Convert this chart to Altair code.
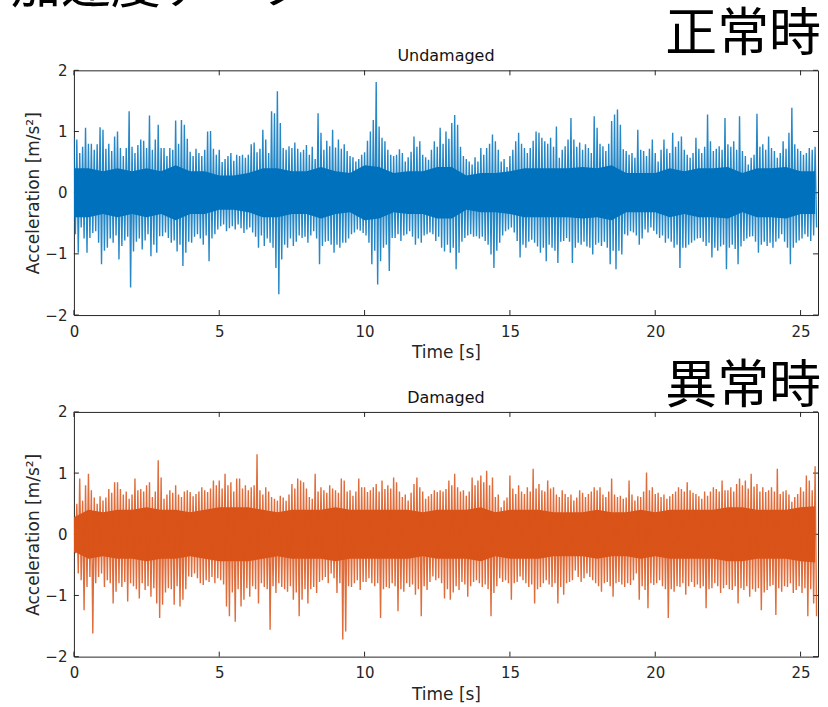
import altair as alt
import pandas as pd

STEP = 0.1        # seconds per envelope slot
CORE_STEP = 0.5   # seconds per core-band reading

# Upper / lower envelope of the Undamaged signal, one value per 0.1 s (0.0 .. 25.5 s)
undamaged_peak = [
    0.90, 0.87, 0.65, 0.75, 1.06, 0.80, 0.80, 0.70, 0.79, 1.07,
    1.03, 0.72, 0.80, 0.68, 0.92, 1.00, 0.73, 0.60, 0.73, 1.33,
    0.75, 0.65, 0.78, 0.87, 0.85, 0.73, 1.26, 0.70, 0.87, 1.11,
    0.73, 0.73, 0.60, 0.73, 0.70, 1.18, 0.80, 1.19, 1.11, 0.88,
    0.67, 0.60, 0.72, 0.65, 0.60, 0.70, 1.00, 1.01, 0.72, 0.62,
    0.70, 0.50, 0.55, 0.60, 0.65, 0.52, 0.62, 0.60, 0.62, 0.57,
    0.62, 0.79, 0.82, 0.66, 0.72, 1.03, 0.87, 0.65, 1.33, 1.30,
    1.66, 1.14, 0.73, 0.70, 0.76, 0.73, 0.82, 0.72, 0.66, 0.70,
    0.78, 0.62, 0.75, 0.55, 1.30, 0.98, 0.70, 0.85, 0.76, 1.03,
    0.74, 0.87, 0.72, 0.79, 0.68, 0.60, 0.58, 0.51, 0.55, 0.62,
    0.66, 0.85, 1.00, 1.19, 1.81, 1.08, 0.90, 0.84, 0.70, 0.62,
    0.60, 0.62, 0.71, 0.65, 0.51, 0.58, 0.67, 0.92, 0.75, 0.84,
    0.62, 0.58, 0.54, 0.70, 0.84, 0.75, 1.06, 0.80, 1.00, 0.88,
    1.14, 1.27, 1.11, 0.75, 0.60, 0.55, 0.51, 0.46, 0.58, 0.51,
    0.73, 0.62, 0.73, 0.80, 0.95, 0.84, 0.70, 0.51, 0.55, 0.42,
    0.60, 0.70, 0.84, 0.98, 0.80, 0.73, 0.65, 0.73, 0.85, 1.00,
    0.98, 0.90, 0.84, 0.80, 0.90, 0.75, 1.08, 0.57, 0.70, 0.76,
    0.87, 1.22, 0.87, 0.75, 0.82, 0.70, 0.79, 0.73, 0.65, 1.25,
    1.06, 0.80, 0.76, 0.68, 0.80, 1.17, 1.28, 1.36, 1.11, 0.71,
    0.68, 0.62, 0.65, 0.57, 1.03, 0.70, 0.68, 0.60, 0.72, 0.87,
    0.65, 0.51, 0.70, 0.87, 0.72, 0.65, 0.98, 0.75, 0.84, 0.92,
    0.70, 0.62, 0.57, 0.65, 0.90, 0.72, 0.65, 0.75, 1.28, 0.84,
    0.68, 0.72, 0.76, 0.70, 1.22, 0.79, 0.75, 0.84, 0.70, 1.25,
    0.68, 0.60, 0.46, 0.57, 0.62, 1.29, 0.75, 0.79, 0.70, 0.92,
    0.73, 0.68, 0.57, 0.65, 0.84, 0.72, 0.98, 1.39, 0.79, 0.72,
    0.68, 0.62, 0.65, 0.73, 0.70, 0.75,
]
undamaged_trough = [
    -0.68, -0.98, -0.57, -0.75, -0.98, -0.74, -0.66, -0.63, -0.82, -1.17,
    -0.95, -0.90, -0.75, -0.82, -0.70, -1.09, -0.87, -0.78, -0.72, -1.55,
    -0.96, -0.80, -0.75, -0.93, -0.78, -0.68, -1.04, -0.85, -0.98, -0.71,
    -0.71, -0.65, -0.74, -0.82, -0.78, -0.96, -0.85, -1.20, -0.98, -0.80,
    -0.82, -0.72, -0.68, -0.75, -0.85, -0.70, -1.12, -0.75, -0.68, -0.60,
    -0.55, -0.52, -0.63, -0.58, -0.55, -0.60, -0.52, -0.58, -0.66, -0.60,
    -0.57, -0.65, -0.72, -0.90, -0.70, -0.87, -0.75, -0.82, -0.90, -1.23,
    -1.66, -1.09, -0.85, -0.90, -0.75, -0.87, -0.80, -0.70, -0.74, -0.72,
    -0.82, -0.70, -0.63, -0.75, -1.17, -0.87, -0.80, -0.79, -0.85, -0.98,
    -0.85, -0.90, -0.82, -0.82, -0.75, -0.68, -0.65, -0.60, -0.62, -0.66,
    -0.70, -0.82, -1.17, -0.95, -1.50, -1.12, -0.90, -0.85, -1.28, -0.74,
    -0.74, -0.68, -0.79, -0.70, -0.68, -0.63, -0.72, -0.85, -0.75, -0.82,
    -0.70, -0.68, -0.65, -0.68, -0.79, -0.72, -0.90, -0.96, -0.85, -0.98,
    -0.90, -1.25, -0.98, -0.80, -0.74, -0.70, -0.68, -0.72, -0.71, -0.75,
    -0.72, -0.79, -0.85, -1.01, -1.23, -0.95, -0.82, -0.70, -0.63, -0.60,
    -0.57, -0.65, -0.79, -1.06, -0.85, -0.90, -0.80, -0.77, -0.82, -0.88,
    -0.98, -0.90, -1.12, -0.85, -0.90, -0.95, -1.15, -0.80, -0.79, -0.74,
    -0.80, -1.15, -0.90, -0.82, -0.85, -0.80, -0.88, -0.90, -1.01, -0.85,
    -0.82, -0.87, -0.80, -0.90, -1.17, -0.95, -1.25, -0.95, -1.01, -0.68,
    -0.70, -0.63, -0.65, -0.70, -0.85, -0.75, -0.60, -0.65, -0.57, -0.62,
    -0.68, -0.74, -0.70, -0.82, -0.75, -0.80, -0.90, -0.85, -1.23, -0.90,
    -0.90, -0.85, -0.82, -0.78, -0.75, -0.74, -0.80, -0.87, -0.82, -1.06,
    -0.90, -0.95, -0.88, -0.85, -1.25, -0.90, -0.85, -0.92, -1.17, -0.88,
    -0.79, -0.75, -0.72, -0.71, -0.80, -0.98, -0.85, -0.80, -0.87, -0.82,
    -0.90, -0.80, -0.75, -0.68, -0.80, -0.90, -1.17, -0.90, -0.82, -0.78,
    -0.75, -0.68, -0.72, -0.79, -0.70, -0.57,
]
# Half-width of the fully solid band of the Undamaged signal, one value per 0.5 s
undamaged_core = [
    0.40, 0.40, 0.35, 0.40, 0.35, 0.40, 0.35, 0.45, 0.35, 0.35,
    0.28, 0.28, 0.32, 0.40, 0.40, 0.35, 0.35, 0.42, 0.35, 0.32,
    0.45, 0.42, 0.32, 0.35, 0.35, 0.42, 0.42, 0.28, 0.32, 0.32,
    0.35, 0.40, 0.40, 0.40, 0.40, 0.42, 0.40, 0.45, 0.32, 0.32,
    0.32, 0.40, 0.35, 0.40, 0.40, 0.42, 0.32, 0.40, 0.40, 0.42,
    0.35, 0.35,
]

# Upper / lower envelope of the Damaged signal, one value per 0.1 s
damaged_peak = [
    0.28, 0.50, 0.91, 0.55, 0.80, 0.99, 0.72, 0.60, 0.50, 0.62,
    0.55, 0.60, 0.74, 0.68, 0.85, 0.85, 0.74, 0.65, 0.70, 0.58,
    0.65, 0.91, 0.72, 0.74, 0.70, 0.80, 0.85, 0.61, 0.70, 1.21,
    0.93, 0.58, 0.65, 0.72, 0.68, 0.80, 0.65, 0.61, 0.70, 0.72,
    0.69, 0.62, 0.66, 0.70, 0.77, 0.72, 0.69, 0.75, 0.88, 0.80,
    0.88, 0.75, 0.99, 0.80, 0.85, 0.70, 0.91, 0.91, 0.75, 0.80,
    0.72, 0.77, 0.80, 1.31, 0.72, 0.65, 0.77, 0.70, 0.61, 0.58,
    0.55, 0.63, 0.60, 0.55, 0.65, 0.82, 0.75, 0.91, 0.88, 0.85,
    0.75, 0.61, 0.58, 0.99, 0.70, 0.77, 0.72, 0.68, 0.80, 0.75,
    0.72, 0.68, 0.91, 0.88, 0.70, 0.72, 0.63, 0.70, 0.91, 0.77,
    0.77, 0.69, 0.72, 0.77, 0.82, 0.70, 0.88, 0.74, 0.80, 0.75,
    0.93, 0.85, 0.70, 0.61, 0.65, 0.55, 0.68, 0.82, 0.93, 0.77,
    0.70, 0.58, 0.62, 0.66, 0.72, 0.69, 0.72, 0.70, 0.74, 0.88,
    0.80, 0.99, 0.77, 0.70, 0.72, 0.63, 0.70, 0.93, 0.80, 0.88,
    0.96, 0.85, 1.04, 0.80, 0.93, 0.61, 0.65, 0.44, 0.55, 0.60,
    0.96, 0.75, 0.66, 0.80, 0.70, 0.66, 0.77, 0.70, 1.07, 0.75,
    0.82, 0.72, 0.70, 0.88, 0.75, 0.77, 0.65, 0.61, 0.72, 0.66,
    0.61, 0.65, 0.55, 0.60, 0.72, 0.68, 0.61, 0.66, 0.70, 0.77,
    0.72, 0.77, 0.65, 0.61, 0.70, 0.91, 0.65, 0.61, 0.63, 0.58,
    0.60, 0.88, 0.65, 0.55, 0.62, 0.61, 0.70, 1.01, 0.72, 0.77,
    0.66, 0.68, 0.61, 0.65, 0.58, 0.62, 0.66, 0.70, 0.77, 0.74,
    0.70, 0.85, 0.72, 0.68, 0.66, 0.62, 0.58, 0.70, 0.63, 0.70,
    0.77, 0.74, 0.70, 0.88, 0.72, 0.72, 0.77, 0.70, 0.82, 0.91,
    0.80, 0.88, 0.75, 0.99, 0.78, 0.82, 0.70, 0.77, 0.69, 0.72,
    0.77, 0.70, 1.07, 0.66, 0.70, 0.72, 0.65, 0.53, 0.61, 0.66,
    0.77, 0.70, 0.96, 0.88, 0.72, 1.11,
]
damaged_trough = [
    -0.31, -0.64, -0.75, -1.24, -0.86, -0.70, -1.62, -0.80, -0.70, -0.64,
    -0.86, -0.75, -0.80, -1.13, -0.94, -0.80, -0.86, -0.78, -1.10, -0.80,
    -0.85, -0.90, -1.05, -0.80, -0.91, -0.85, -1.02, -0.88, -1.13, -1.37,
    -1.15, -0.95, -0.88, -0.90, -1.15, -0.85, -1.18, -1.07, -0.90, -0.69,
    -0.70, -0.64, -0.72, -0.80, -0.83, -0.75, -0.78, -0.70, -0.80, -0.72,
    -0.75, -0.82, -1.18, -1.34, -0.95, -1.43, -0.90, -1.18, -1.07, -0.88,
    -1.02, -0.85, -0.90, -1.13, -0.80, -0.86, -0.90, -1.56, -0.85, -0.96,
    -0.80, -0.86, -0.90, -0.94, -0.85, -1.07, -0.95, -1.34, -1.07, -0.90,
    -1.13, -0.90, -0.86, -0.96, -0.78, -0.75, -0.70, -0.80, -0.64, -0.72,
    -0.96, -0.80, -1.72, -1.59, -0.85, -0.86, -0.80, -0.75, -0.91, -0.78,
    -0.78, -0.72, -0.80, -0.85, -0.80, -1.37, -0.90, -0.86, -0.88, -0.80,
    -0.85, -1.26, -0.90, -0.94, -0.80, -0.86, -0.82, -0.99, -0.90, -1.34,
    -0.85, -0.91, -0.78, -0.69, -0.75, -0.72, -0.80, -1.05, -0.90, -1.07,
    -0.95, -0.85, -0.91, -0.78, -0.82, -1.02, -0.85, -0.78, -0.75, -0.80,
    -0.86, -0.82, -0.90, -1.34, -0.96, -0.85, -0.72, -0.78, -0.75, -0.80,
    -1.07, -0.80, -0.78, -0.69, -0.75, -0.80, -0.86, -0.82, -1.13, -0.90,
    -0.86, -0.80, -0.75, -0.82, -0.86, -0.80, -1.13, -0.86, -0.99, -0.80,
    -0.78, -0.75, -0.59, -0.70, -0.78, -0.72, -0.64, -0.70, -0.75, -0.80,
    -0.85, -0.94, -0.80, -0.78, -0.85, -1.02, -0.80, -0.78, -0.82, -0.86,
    -0.80, -0.83, -0.75, -0.64, -1.07, -0.85, -0.91, -1.21, -0.80, -0.83,
    -0.80, -0.75, -0.85, -0.90, -1.37, -0.90, -0.94, -0.85, -0.86, -0.80,
    -0.99, -0.85, -0.78, -0.86, -0.82, -0.88, -0.85, -1.21, -0.90, -0.88,
    -0.80, -0.85, -0.96, -0.88, -0.83, -0.90, -0.91, -0.85, -1.13, -0.88,
    -0.91, -0.85, -1.02, -0.90, -0.94, -0.88, -1.24, -0.95, -0.91, -0.85,
    -0.83, -1.32, -0.88, -0.94, -0.85, -0.86, -0.80, -0.96, -0.91, -0.85,
    -0.96, -0.88, -1.34, -0.90, -1.13, -1.34,
]
# Half-width of the fully solid band of the Damaged signal, one value per 0.5 s
damaged_core = [
    0.28, 0.40, 0.36, 0.40, 0.40, 0.44, 0.40, 0.40, 0.36, 0.40,
    0.44, 0.44, 0.44, 0.40, 0.36, 0.40, 0.40, 0.40, 0.44, 0.40,
    0.40, 0.40, 0.40, 0.40, 0.36, 0.40, 0.40, 0.40, 0.44, 0.36,
    0.40, 0.40, 0.40, 0.36, 0.36, 0.36, 0.40, 0.36, 0.36, 0.40,
    0.36, 0.40, 0.40, 0.40, 0.40, 0.44, 0.44, 0.40, 0.40, 0.40,
    0.44, 0.46,
]

x_ticks = [0, 5, 10, 15, 20, 25]
y_ticks = [-2, -1, 0, 1, 2]
panel_titles = ["Undamaged", "Damaged"]
panel_labels = ["正常時", "異常時"]
heading = "加速度データ"
colors = ["#0072BD", "#D95319"]

W, H = 745, 245
FRAME = "#262626"
LATIN = "DejaVu Sans"
CJK = "Noto Sans CJK JP"


def trace(peaks, troughs):
    rows = []
    for i, (p, q) in enumerate(zip(peaks, troughs)):
        rows.append({"t": round(i * STEP, 3), "a": p})
        rows.append({"t": round(i * STEP + STEP / 2, 3), "a": q})
    return pd.DataFrame(rows)


def band(core):
    return pd.DataFrame({
        "t": [round(i * CORE_STEP, 2) for i in range(len(core))],
        "a": core,
        "a2": [-c for c in core],
    })


def panel(peaks, troughs, core, color, title, label, label_y, extra=None):
    X = alt.X("t:Q", scale=alt.Scale(domain=[0, 25.6], nice=False, zero=False),
              axis=alt.Axis(values=x_ticks, title="Time [s]", format="d", ticks=False,
                            domain=False, grid=False, labelPadding=9, titlePadding=6,
                            labelFlush=False))
    Y = alt.Y("a:Q", scale=alt.Scale(domain=[-2, 2], nice=False, zero=False),
              axis=alt.Axis(values=y_ticks, title="Acceleration [m/s²]", format="d",
                            ticks=False, domain=False, grid=False, labelPadding=7,
                            titlePadding=2))
    solid = alt.Chart(band(core)).mark_area(color=color, opacity=1, clip=True).encode(
        x=X, y=Y, y2="a2:Q")
    line = alt.Chart(trace(peaks, troughs)).mark_line(
        color=color, strokeWidth=1.4, opacity=0.85, clip=True
    ).encode(x=X, y=Y)
    xt = pd.DataFrame({"t": x_ticks})
    yt = pd.DataFrame({"a": y_ticks})
    tick_top = alt.Chart(xt).mark_rule(color=FRAME, strokeWidth=1).encode(
        x=X, y=alt.value(0), y2=alt.value(5))
    tick_bot = alt.Chart(xt).mark_rule(color=FRAME, strokeWidth=1).encode(
        x=X, y=alt.value(H), y2=alt.value(H - 5))
    tick_left = alt.Chart(yt).mark_rule(color=FRAME, strokeWidth=1).encode(
        y=Y, x=alt.value(0), x2=alt.value(5))
    tick_right = alt.Chart(yt).mark_rule(color=FRAME, strokeWidth=1).encode(
        y=Y, x=alt.value(W), x2=alt.value(W - 5))
    ttl = alt.Chart(pd.DataFrame({"s": [title]})).mark_text(
        align="center", baseline="alphabetic", fontSize=16, font=LATIN, color="#111111"
    ).encode(x=alt.value(W / 2), y=alt.value(-9), text="s:N")
    lab = alt.Chart(pd.DataFrame({"s": [label]})).mark_text(
        align="right", baseline="alphabetic", fontSize=52, font=CJK, color="#000000"
    ).encode(x=alt.value(W + 3), y=alt.value(label_y), text="s:N")
    layers = [tick_top, tick_bot, tick_left, tick_right, solid, line, ttl, lab]
    if extra is not None:
        layers.append(extra)
    return alt.layer(*layers).properties(width=W, height=H)


head = alt.Chart(pd.DataFrame({"s": [heading]})).mark_text(
    align="left", baseline="alphabetic", fontSize=50, font=CJK, color="#000000"
).encode(x=alt.value(-63), y=alt.value(-67), text="s:N")

top = panel(undamaged_peak, undamaged_trough, undamaged_core, colors[0],
            panel_titles[0], panel_labels[0], -19, head)
bottom = panel(damaged_peak, damaged_trough, damaged_core, colors[1],
               panel_titles[1], panel_labels[1], -9)

chart = alt.vconcat(top, bottom, spacing=97, bounds="flush").properties(
    padding={"left": 10, "top": -38, "right": 6, "bottom": 5}
).configure_view(
    stroke=FRAME, strokeWidth=1
).configure_axis(
    labelFont=LATIN, titleFont=LATIN, labelFontSize=15, titleFontSize=17,
    labelColor=FRAME, titleColor=FRAME, titleFontWeight="normal"
)

chart.save("out.html", embed_options={"renderer": "svg", "actions": False})
